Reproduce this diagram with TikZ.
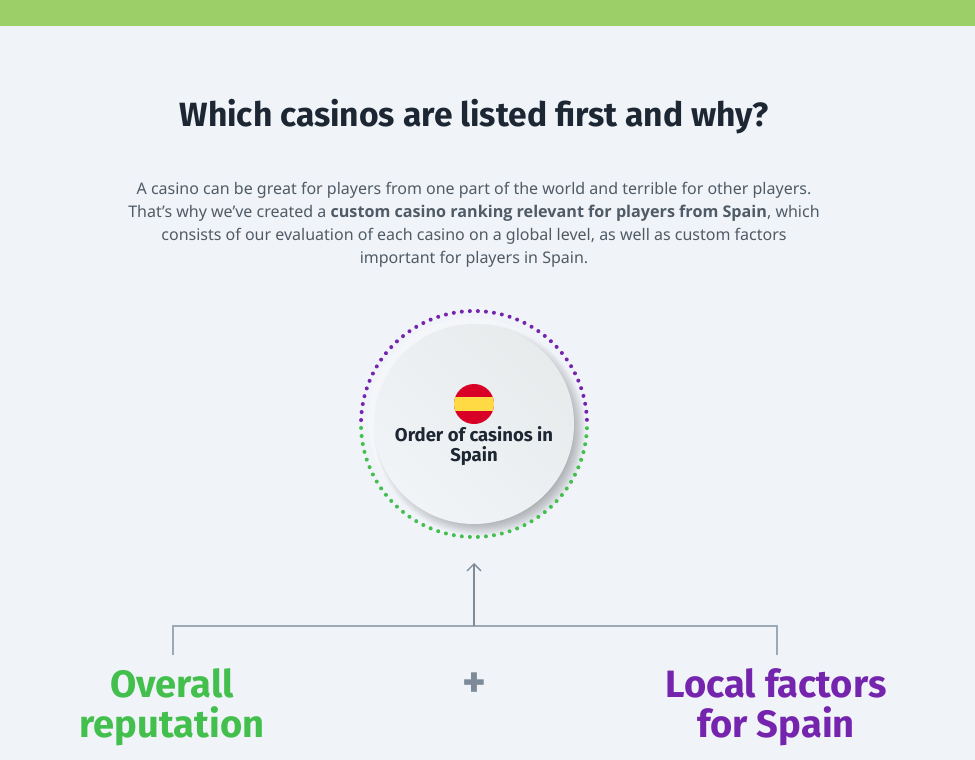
\documentclass[tikz,border=0pt]{standalone}
\usepackage{fontspec}
\setmainfont{Noto Sans}
\newfontfamily\headfont{Fira Sans}
\newfontfamily\strongfont{Open Sans}[Scale=1.01]
\usetikzlibrary{arrows.meta,positioning}
\definecolor{bgcol}{HTML}{F0F3F8}
\definecolor{barcol}{HTML}{9DCF68}
\definecolor{inkcol}{HTML}{1D2733}
\definecolor{bodycol}{HTML}{4F5B66}
\definecolor{linecol}{HTML}{9DA9B5}
\definecolor{arrowcol}{HTML}{7D8B99}
\definecolor{greencol}{HTML}{43BF4D}
\definecolor{purplecol}{HTML}{7524AE}
\definecolor{flagred}{HTML}{D80027}
\definecolor{flagyellow}{HTML}{FFDA44}
\definecolor{disclight}{HTML}{F1F4F7}
\definecolor{discdark}{HTML}{E8EBEC}
\tikzset{
	heading/.style={font=\headfont\bfseries\fontsize{33.6}{40}\selectfont,text=inkcol,inner sep=0pt},
	bodytext/.style={font=\fontsize{16}{23}\selectfont,text=bodycol,align=center,inner sep=0pt},
	factor/.style={font=\headfont\bfseries\fontsize{38.1}{40}\selectfont,align=center,inner sep=0pt},
	bracket/.style={draw=linecol,line width=2pt},
}
\begin{document}
\begin{tikzpicture}[x=1pt,y=-1pt]
	\fill[bgcol] (0,0) rectangle (975,760);
	\fill[barcol] (0,0) rectangle (975,26);
	%
	\node[heading] (title) at (474,117) {Which casinos are listed first and why?};
	\node[bodytext] (intro) at (474,225) {A casino can be great for players from one part of the world and terrible for other players.\\
		That’s why we’ve created a {\strongfont\bfseries custom casino ranking relevant for players from Spain}, which\\
		consists of our evaluation of each casino on a global level, as well as custom factors\\
		important for players in Spain.};
	
	% shadow of the disc
	\fill[white,opacity=0.3] (471,421) circle (103);
	\foreach \r in {88,89,...,106}
	\fill[black,opacity=0.02] (480,430) circle (\r);
	% disc
	\node[circle,minimum size=200pt,inner sep=0pt,left color=discdark,right color=disclight,shading angle=-45] (disc) at (474,424) {};
	% dotted ring
	\foreach \n in {0,...,43}{
		\fill[purplecol] ({474+113*cos(182+4.09*\n)},{424+113*sin(182+4.09*\n)}) circle (2);
		\fill[greencol] ({474+113*cos(178-4.09*\n)},{424+113*sin(178-4.09*\n)}) circle (2);
	}
	% flag
	\begin{scope}
		\clip (474,404) circle (20);
		\fill[flagred] (454,384) rectangle (494,424);
		\fill[flagyellow] (454,397) rectangle (494,411);
	\end{scope}
	\node[font=\headfont\bfseries\fontsize{18.5}{20}\selectfont,text=inkcol,align=center,inner sep=0pt] (order) at (474,446) {Order of casinos in\\Spain};
	
	% bracket and arrow
	\node[factor,text=greencol] (overall) at (172,707) {Overall\\reputation};
	\node[factor,text=purplecol] (local) at (776,707) {Local factors\\for Spain};
	\node[font=\headfont\bfseries\fontsize{45}{45}\selectfont,text=arrowcol,inner sep=0pt] (plus) at (474,685) {+};
	\coordinate (leftend) at (173,655);
	\coordinate (rightend) at (777,655);
	\coordinate (join) at (474,626);
	\coordinate (tip) at (474,563);
	\draw[bracket] (leftend) |- (join) -| (rightend);
	\draw[arrowcol,line width=2pt,-{Straight Barb[length=7pt,width=14pt,line width=1.4pt]}] (join) -- (tip);
\end{tikzpicture}
\end{document}
